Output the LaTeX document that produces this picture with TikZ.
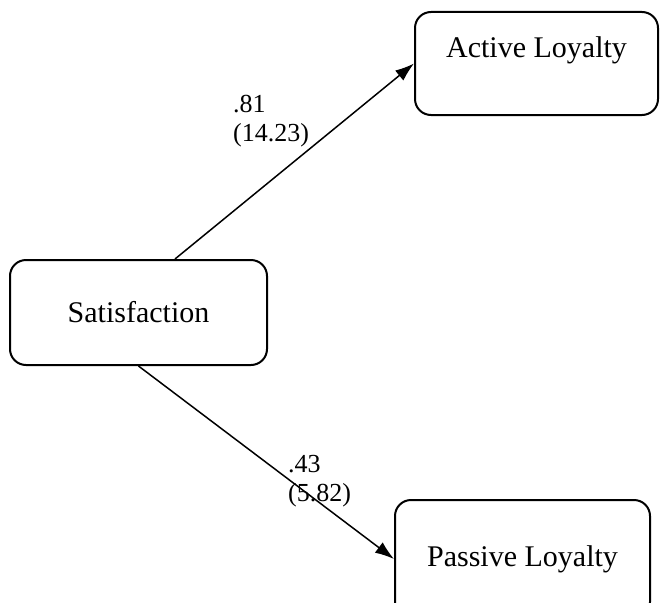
\documentclass[tikz,border=0pt]{standalone}
\usepackage{fontspec}
\setmainfont{Liberation Serif}
\usetikzlibrary{arrows.meta}

\begin{document}
\begin{tikzpicture}[x=1pt, y=-1pt,
  every node/.style={font=\fontsize{30}{32}\selectfont},
  konstrukt/.style={draw, line width=2pt, rounded corners=16pt, inner sep=0pt},
  popisek/.style={font=\fontsize{26}{29}\selectfont, align=left, anchor=north west, inner sep=0pt},
  cesta/.style={-{Latex[length=19pt,width=13pt]}, line width=1.5pt}]
  \useasboundingbox (0,0) rectangle (660,602);
  \clip (0,0) rectangle (660,602);

  % konstrukty
  \node[konstrukt, minimum width=257pt, minimum height=105pt] (sat) at (138.5,312.5) {Satisfaction};
  \node[konstrukt, minimum width=243pt, minimum height=103pt] (al) at (536.5,63.5) {};
  \node[konstrukt, minimum width=255pt, minimum height=118pt] (pl) at (522.5,559) {Passive Loyalty};

  % text v horním rámečku
  \node (altxt) at ([yshift=-39pt]al.north) {Active Loyalty};

  % cesty
  \draw[cesta] ([xshift=36.5pt]sat.north) -- (al.west);
  \draw[cesta] (sat.south) -- (pl.west);

  % koeficienty (t-hodnoty)
  \node[popisek] (k1) at (233,95) {.81\\(14.23)};
  \node[popisek] (k2) at (288,455) {.43\\(5.82)};
\end{tikzpicture}
\end{document}
